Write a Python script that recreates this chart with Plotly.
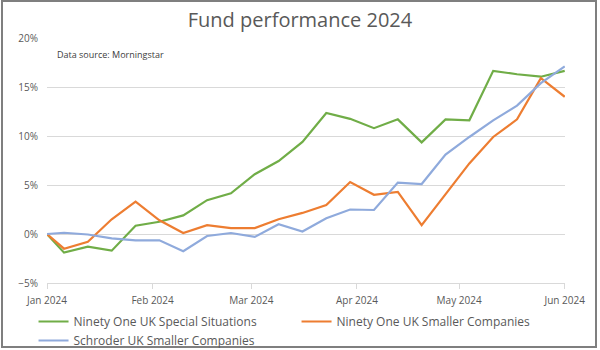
import plotly.graph_objects as go

dates = ["2024-01-01", "2024-01-06", "2024-01-13", "2024-01-20", "2024-01-27",
         "2024-02-03", "2024-02-10", "2024-02-17", "2024-02-24", "2024-03-02",
         "2024-03-09", "2024-03-16", "2024-03-23", "2024-03-30", "2024-04-06",
         "2024-04-13", "2024-04-20", "2024-04-27", "2024-05-04", "2024-05-11",
         "2024-05-18", "2024-05-25", "2024-06-01"]

special_situations = [0.0, -1.9, -1.3, -1.7, 0.85, 1.25, 1.9, 3.45, 4.15, 6.1,
                      7.45, 9.4, 12.35, 11.75, 10.8, 11.7, 9.35, 11.7, 11.6, 16.65,
                      16.3, 16.05, 16.65]
ninety_smaller = [0.0, -1.5, -0.8, 1.5, 3.3, 1.4, 0.1, 0.9, 0.6, 0.6,
                  1.5, 2.15, 2.95, 5.3, 4.0, 4.3, 0.9, 4.0, 7.2, 9.9,
                  11.7, 15.9, 14.0]
schroder_smaller = [0.0, 0.13, -0.05, -0.45, -0.65, -0.65, -1.75, -0.2, 0.1, -0.3,
                    1.0, 0.25, 1.6, 2.5, 2.45, 5.25, 5.1, 8.1, 9.9, 11.6,
                    13.1, 15.4, 17.1]

series_names = ["Ninety One UK Special Situations", "Ninety One UK Smaller Companies",
                "Schroder UK Smaller Companies"]
series_colors = ["#70ad47", "#ed7d31", "#8faadc"]

fig = go.Figure()
for name, vals, col in zip(series_names, [special_situations, ninety_smaller, schroder_smaller], series_colors):
    fig.add_trace(go.Scatter(x=dates, y=vals, mode="lines", name=name,
                             line=dict(color=col, width=2.2)))

L, R, T, B = 47, 35, 38, 67
W, H = 600, 350
pw, ph = W - L - R, H - T - B

fig.update_layout(
    width=W, height=H,
    margin=dict(l=L, r=R, t=T, b=B, autoexpand=False),
    paper_bgcolor="white", plot_bgcolor="white",
    font=dict(family="Open Sans", color="#595959", size=10),
    title=dict(text="Fund performance 2024", x=0.5, xref="container", xanchor="center",
               y=1 - 20 / H, yref="container", yanchor="middle",
               font=dict(size=20, color="#595959", family="Open Sans")),
    showlegend=True,
    legend=dict(orientation="h", x=-0.026, xanchor="left",
                y=-(331 - (H - B)) / ph, yanchor="middle",
                entrywidth=218, entrywidthmode="pixels", font=dict(size=12, color="#595959"),
                tracegroupgap=0, itemwidth=30, bgcolor="rgba(0,0,0,0)"),
    xaxis=dict(type="date", range=["2024-01-01", "2024-06-01 02:00"], dtick="M1",
               tick0="2024-01-01", tickformat="%b %Y", showgrid=False,
               showline=True, linecolor="#d9d9d9", linewidth=1,
               ticks="outside", ticklen=5, tickcolor="#d9d9d9", ticklabelstandoff=3,
               tickfont=dict(size=10, color="#595959"), zeroline=False),
    yaxis=dict(range=[-5, 20], dtick=5, tick0=0, ticksuffix="%", showgrid=True,
               gridcolor="#d9d9d9", gridwidth=1, zeroline=False, showline=False,
               tickfont=dict(size=10, color="#595959"), ticklabelstandoff=8),
)

fig.add_annotation(text="Data source: Morningstar", xref="paper", yref="paper",
                   x=(55 - L) / pw, y=(H - B - 54) / ph, xanchor="left", yanchor="middle",
                   showarrow=False, font=dict(size=9, color="#404040"))

fig.add_shape(type="rect", xref="paper", yref="paper",
              x0=(2 - L) / pw, x1=(596 - L) / pw, y0=(H - B - 347) / ph, y1=(H - B - 1) / ph,
              line=dict(color="#7f7f7f", width=2), fillcolor="rgba(0,0,0,0)", layer="above")

fig.write_html("out.html")
